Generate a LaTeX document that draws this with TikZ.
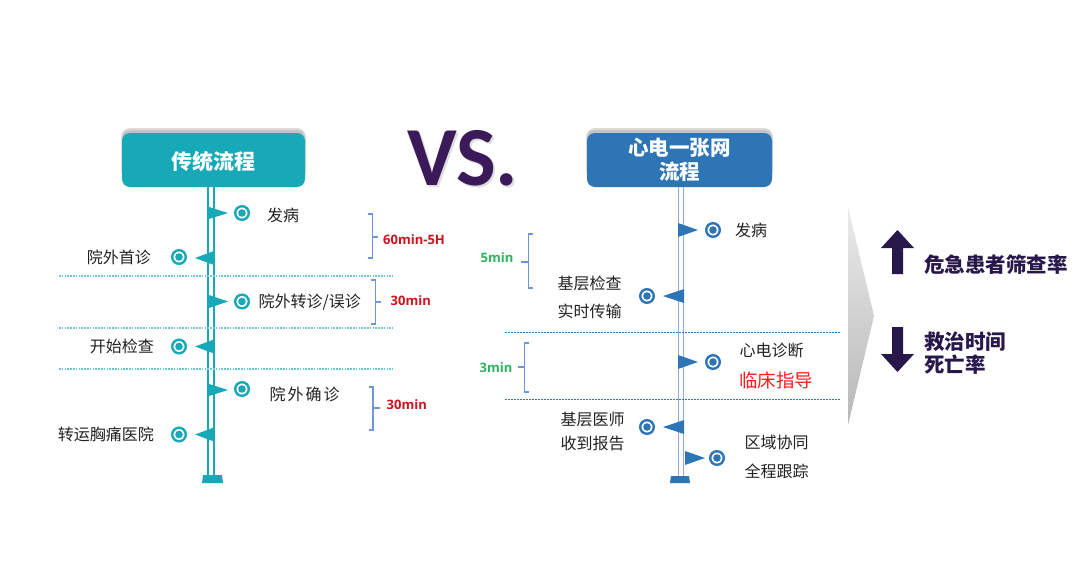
\documentclass[tikz,border=0pt]{standalone}
\usepackage{fontspec}
\setmainfont{Noto Sans CJK SC}
\newfontfamily\latinb{Open Sans}
\newfontfamily\vsfont{Carlito}
\definecolor{tealc}{HTML}{17A9B7}
\definecolor{bluec}{HTML}{2E75B6}
\definecolor{axisb}{HTML}{8FAADC}
\definecolor{brk}{HTML}{6F96D6}
\definecolor{redl}{HTML}{D0121B}
\definecolor{redb}{HTML}{FF1A1A}
\definecolor{greenl}{HTML}{2DB35D}
\definecolor{purp}{HTML}{3B1A5A}
\definecolor{darkp}{HTML}{28174A}
\definecolor{txt}{HTML}{222222}
\definecolor{dotteal}{HTML}{6CC5CF}
\tikzset{
  ring/.style={circle, draw=#1, line width=2.4pt, minimum size=13.6pt, inner sep=0pt, fill=white,
    path picture={\fill[#1] (path picture bounding box.center) circle (3.8pt);}},
  lbl/.style={text=txt, font=\fontsize{16}{20}\selectfont, inner sep=0pt},
  two/.style={text=txt, font=\fontsize{16}{#1}\selectfont, inner sep=0pt, align=center},
  boxtitle/.style={text=white, font=\bfseries\fontsize{21}{24}\selectfont, inner sep=0pt, align=center},
  timelbl/.style={font=\latinb\bfseries\fontsize{13}{15}\selectfont, inner sep=0pt, anchor=west},
  brace/.style={draw=brk, line width=1.2pt},
  tdot/.style={draw=dotteal, line width=1.2pt, dash pattern=on 1.6pt off 1.2pt},
  bdot/.style={draw=bluec, line width=0.8pt, dash pattern=on 2pt off 1pt},
  result/.style={text=darkp, font=\bfseries\fontsize{20.5}{22}\selectfont, inner sep=0pt, anchor=west, align=left},
}
\begin{document}
\begin{tikzpicture}[x=1pt,y=-1pt]
\useasboundingbox (0,0) rectangle (1080,582);
\fill[white] (0,0) rectangle (1080,582);

% ---------- left title box ----------
\fill[black!40, opacity=0.35, rounded corners=9] (121,128) rectangle (306,180);
\fill[black!40, opacity=0.35, rounded corners=8] (122,130) rectangle (305,182);
\fill[tealc, rounded corners=8] (122,133) rectangle (305,187);
\node[boxtitle] (t1) at (213.5,161) {传统流程};

% ---------- VS ----------
\node[anchor=base west, inner sep=0pt, text=black!25, opacity=0.5, font=\vsfont\bfseries\fontsize{84}{84}\selectfont] at (409,187) {VS.};
\node[anchor=base west, inner sep=0pt, text=purp, font=\vsfont\bfseries\fontsize{84}{84}\selectfont] (vs) at (407,185) {VS.};

% ---------- right title box ----------
\fill[black!40, opacity=0.35, rounded corners=9] (586,128) rectangle (773,180);
\fill[black!40, opacity=0.35, rounded corners=8] (587,130) rectangle (772,182);
\fill[bluec, rounded corners=8] (587,133) rectangle (772,187);
\node[boxtitle, font=\bfseries\fontsize{20.5}{24}\selectfont] (t2) at (679.5,160) {心电一张网\\流程};

% ---------- left axis ----------
\coordinate (la1) at (208,187); \coordinate (la1e) at (208,477);
\coordinate (la2) at (214,187); \coordinate (la2e) at (214,477);
\draw[tealc, line width=1.5pt] (la1) -- (la1e);
\draw[tealc, line width=1.5pt] (la2) -- (la2e);
\fill[tealc] (203,475) -- (222,475) -- (223,483) -- (202,483) -- cycle;

% dotted separators
\draw[tdot] (59,276) -- (393,276);
\draw[tdot] (59,328) -- (393,328);
\draw[tdot] (59,369) -- (393,369);

% flags left
\fill[tealc] (209,207) -- (209,219) -- (228,213) -- cycle;
\fill[tealc] (214,251) -- (214,265) -- (195,258) -- cycle;
\fill[tealc] (209,295) -- (209,308) -- (228,301.5) -- cycle;
\fill[tealc] (214,339.5) -- (214,353.5) -- (195,346.5) -- cycle;
\fill[tealc] (209,384) -- (209,396) -- (228,390) -- cycle;
\fill[tealc] (214,427.5) -- (214,441.5) -- (195,434.5) -- cycle;

% rings left
\node[ring=tealc] (c1) at (242,213) {};
\node[ring=tealc] (c2) at (179,257) {};
\node[ring=tealc] (c3) at (242,301.5) {};
\node[ring=tealc] (c4) at (179,346.5) {};
\node[ring=tealc] (c5) at (242,389) {};
\node[ring=tealc] (c6) at (179,434.5) {};

% labels left
\node[lbl] (l1) at (283,215) {发病};
\node[lbl, anchor=east] (l2) at (151,257) {院外首诊};
\node[lbl, anchor=west] (l3) at (258.5,302) {院外转诊/误诊};
\node[lbl, anchor=east] (l4) at (154,346.5) {开始检查};
\node[lbl] (l5) at (304.5,394) {院\hspace{2pt}外\hspace{2pt}确\hspace{2pt}诊};
\node[lbl, anchor=east] (l6) at (154,434.5) {转运胸痛医院};

% brackets left
\draw[brace] (368,214) -- (372.5,214) -- (372.5,258) -- (368,258);
\draw[brace] (372.5,237) -- (378,237);
\node[timelbl, text=redl] (b1) at (383,240) {60min-5H};
\draw[brace] (371,280) -- (375.5,280) -- (375.5,324) -- (371,324);
\draw[brace] (375.5,302) -- (381,302);
\node[timelbl, text=redl] (b2) at (390.5,301) {30min};
\draw[brace] (368.5,387) -- (373,387) -- (373,430) -- (368.5,430);
\draw[brace] (373,408) -- (380,408);
\node[timelbl, text=redl] (b3) at (386.5,405) {30min};

% ---------- right axis ----------
\coordinate (ra1) at (678.5,187); \coordinate (ra1e) at (678.5,477);
\coordinate (ra2) at (683.5,187); \coordinate (ra2e) at (683.5,477);
\draw[axisb, line width=1.6pt] (ra1) -- (ra1e);
\draw[axisb, line width=1.6pt] (ra2) -- (ra2e);
\fill[bluec] (671,476) -- (689,476) -- (690,483) -- (670,483) -- cycle;

\draw[bdot] (505,332) -- (840,332);
\draw[bdot] (505,399) -- (840,399);

% flags right
\fill[bluec] (678,223) -- (678,237) -- (698,230) -- cycle;
\fill[bluec] (684,289) -- (684,303) -- (663,296) -- cycle;
\fill[bluec] (678,355) -- (678,369) -- (698,362) -- cycle;
\fill[bluec] (684,420) -- (684,434) -- (663,427) -- cycle;
\fill[bluec] (685,451) -- (685,465) -- (705,458) -- cycle;

% rings right
\node[ring=bluec] (d1) at (713,230) {};
\node[ring=bluec] (d2) at (647,296) {};
\node[ring=bluec] (d3) at (713,362) {};
\node[ring=bluec] (d4) at (647,427) {};
\node[ring=bluec] (d5) at (717,458) {};

% labels right
\node[lbl] (r1) at (751,230) {发病};
\node[two=28] (r2) at (589.5,297) {基层检查\\实时传输};
\node[lbl, anchor=west] (r3) at (739.5,350) {心电诊断};
\node[lbl, anchor=west, text=redb, font=\fontsize{18.5}{22}\selectfont] (r4) at (739,380) {临床指导};
\node[two=24] (r5) at (592.5,431) {基层医师\\收到报告};
\node[two=29] (r6) at (776.5,456.5) {区域协同\\全程跟踪};

% brackets right
\draw[brace] (533,234) -- (528.5,234) -- (528.5,288) -- (533,288);
\draw[brace] (528.5,262) -- (521,262);
\node[timelbl, text=greenl] (g1) at (480.5,257.5) {5min};
\draw[brace] (529,343) -- (524.5,343) -- (524.5,392) -- (529,392);
\draw[brace] (524.5,367) -- (518,367);
\node[timelbl, text=greenl] (g2) at (479.5,367.5) {3min};

% ---------- chevron ----------
\shade[top color=black!8, bottom color=black!28] (848,207) -- (874,316) -- (848,425) -- cycle;

% ---------- results ----------
\fill[darkp] (897.5,230) -- (914,248) -- (903,248) -- (903,274) -- (892,274) -- (892,248) -- (881,248) -- cycle;
\node[result] (res1) at (924,265) {危急患者筛查率};
\fill[darkp] (892,327) -- (903,327) -- (903,354) -- (914,354) -- (897.5,372) -- (881,354) -- (892,354) -- cycle;
\node[result, font=\bfseries\fontsize{20.5}{22.5}\selectfont] (res2) at (924,353) {救治时间\\死亡率};
\end{tikzpicture}
\end{document}
